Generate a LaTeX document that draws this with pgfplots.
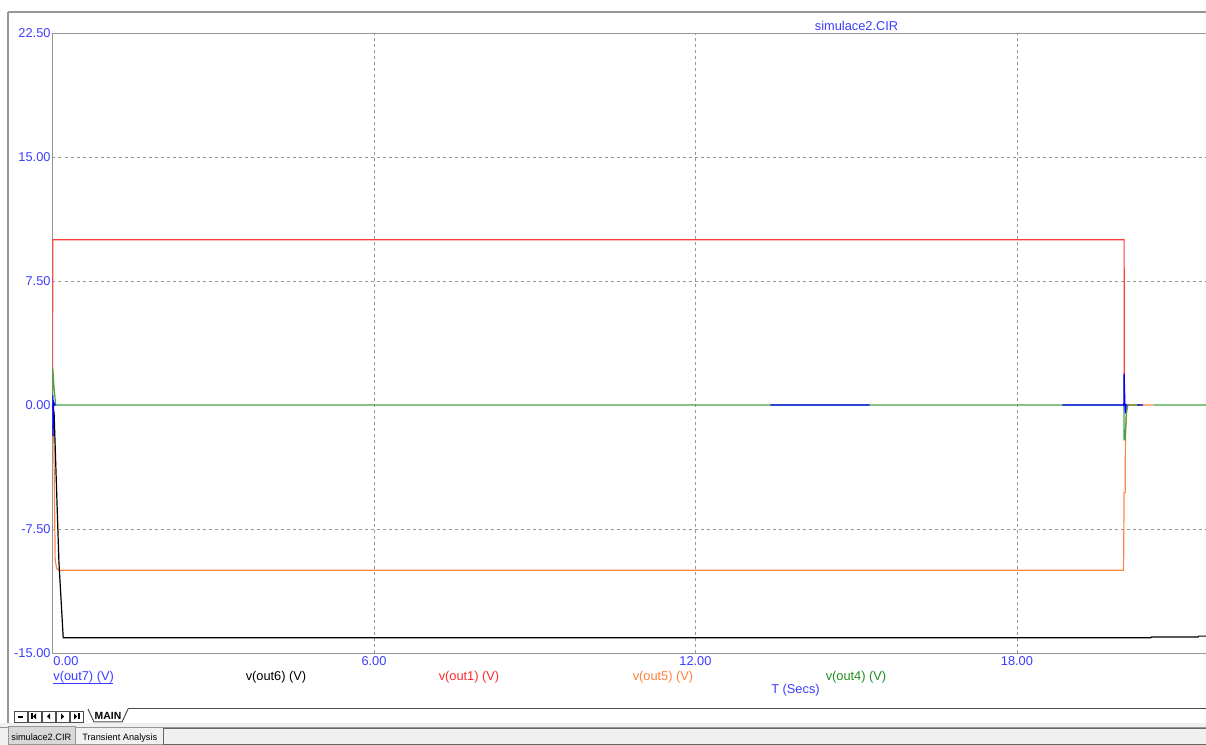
\documentclass[border=0pt]{standalone}
\usepackage{fontspec}
\setmainfont{Liberation Sans}
\usepackage{pgfplots}
\pgfplotsset{compat=1.18}
\definecolor{tickblue}{RGB}{60,60,255}
\definecolor{cred}{RGB}{255,60,60}
\definecolor{corange}{RGB}{255,135,70}
\definecolor{cgreen}{RGB}{70,165,70}
\definecolor{tgreen}{RGB}{30,140,30}
\definecolor{tred}{RGB}{255,40,40}
\definecolor{torange}{RGB}{255,128,56}
\definecolor{cblue}{RGB}{0,0,255}
\definecolor{framegray}{RGB}{150,150,150}
\definecolor{barbg}{RGB}{240,240,240}
\begin{document}
\begin{tikzpicture}
\useasboundingbox (0,0) rectangle (603pt,372.5pt);
\fill[white] (0,0) rectangle (603pt,372.5pt);
\begin{scope}[x=0.5pt,y=-0.5pt,shift={(0,-745)}]
% window decorations
\fill[barbg] (0,723) rectangle (1206,745);
\draw[framegray,line width=1pt] (8,12.5) -- (1206,12.5);
\draw[framegray,line width=1pt] (8,12) -- (8,723);
\draw[black!70,line width=0.5pt] (128,709) -- (1206,709);
\draw[black!70,line width=0.5pt] (88,709) -- (94,722) -- (122,722) -- (128,709);
\node[font=\fontsize{5.2pt}{6pt}\selectfont\bfseries,inner sep=0] at (108,715.5) {MAIN};
% buttons
\foreach \bx in {14,28,42,56,70}{\draw[black!70,line width=0.4pt,fill=white] (\bx,711) rectangle (\bx+13,722);}
\draw[black,line width=0.6pt] (18,717) -- (23,717);
\fill[black] (36,713.5) -- (36,719.5) -- (33,716.5) -- cycle; \draw[black,line width=0.6pt] (32,713.5)--(32,719.5);
\fill[black] (50,713.5) -- (50,719.5) -- (47,716.5) -- cycle;
\fill[black] (61,713.5) -- (61,719.5) -- (64,716.5) -- cycle;
\fill[black] (74,713.5) -- (74,719.5) -- (77,716.5) -- cycle; \draw[black,line width=0.6pt] (79,713.5)--(79,719.5);
% status tabs
\draw[framegray,line width=0.5pt] (0,728) -- (1206,728);
\draw[framegray,line width=0.5pt,fill=barbg!90!black] (8,727) rectangle (75,745);
\draw[framegray,line width=0.5pt,fill=barbg] (75,728) rectangle (163,745);
\draw[black!60,line width=0.5pt,fill=barbg] (163,729) rectangle (1206,745);
\node[font=\fontsize{4.6pt}{5.5pt}\selectfont,inner sep=0,anchor=west] at (11,737.5) {simulace2.CIR};
\node[font=\fontsize{4.6pt}{5.5pt}\selectfont,inner sep=0,anchor=west] at (82,738) {Transient Analysis};
% title and labels
\node[font=\fontsize{6.4pt}{7.7pt}\selectfont,text=tickblue,inner sep=0] at (856.5,25.5) {simulace2.CIR};
\node[font=\fontsize{6.4pt}{7.7pt}\selectfont,text=tickblue,inner sep=0,anchor=west] at (53,677) {v(out7) (V)};
\draw[tickblue,line width=0.4pt] (53,683) -- (113,683);
\node[font=\fontsize{6.4pt}{7.7pt}\selectfont,text=black,inner sep=0] at (276,677) {v(out6) (V)};
\node[font=\fontsize{6.4pt}{7.7pt}\selectfont,text=tred,inner sep=0] at (469,677) {v(out1) (V)};
\node[font=\fontsize{6.4pt}{7.7pt}\selectfont,text=torange,inner sep=0] at (663,677) {v(out5) (V)};
\node[font=\fontsize{6.4pt}{7.7pt}\selectfont,text=tgreen,inner sep=0] at (856,677) {v(out4) (V)};
\node[font=\fontsize{6.4pt}{7.7pt}\selectfont,text=tickblue,inner sep=0] at (795.5,690.5) {T (Secs)};
\end{scope}
\begin{axis}[
  at={(26.25pt,46pt)}, anchor=south west,
  scale only axis, width=577.75pt, height=310pt,
  xmin=0, xmax=21.566, ymin=-15, ymax=22.5,
  axis line style={framegray, line width=0.5pt},
  major tick length=0pt,
  xtick={6,12,18}, xticklabels={6.00,12.00,18.00},
  extra x ticks={0}, extra x tick labels={0.00},
  extra y ticks={0}, extra y tick labels={0.00},
  extra x tick style={grid=none, xticklabel style={anchor=north west, xshift=-1.2pt}},
  extra y tick style={grid=none},
  ytick={-15,-7.5,7.5,15,22.5},
  yticklabels={-15.00,-7.50,7.50,15.00,22.50},
  ticklabel style={font=\fontsize{6.4pt}{7.7pt}\selectfont, text=tickblue},
  xticklabel style={anchor=north, inner sep=1.5pt},
  yticklabel style={anchor=east, inner sep=0.8pt},
  grid=major,
  major grid style={framegray, dash pattern=on 1.5pt off 1.5pt, line width=0.4pt},
  unbounded coords=jump,
  every axis plot/.append style={line width=0.6pt},
]
% v(out1)
\addplot[cred] coordinates {(0,0) (0.005,10) (20.0,10) (20.005,0) (20.3,0)};
% v(out5)
\addplot[corange] coordinates {(0,0) (0.02,-0.7) (0.05,-9.4) (0.08,-9.9) (0.12,-10.0) (19.99,-10.0) (20.0,-5.3) (20.02,-5.3) (20.025,-1.9) (20.05,-0.3) (20.07,0) (20.55,0)};
% v(out6)
\addplot[black] coordinates {(0,0) (0.03,-0.5) (0.12,-9.5) (0.2,-14.08) (20.5,-14.08) (20.51,-14.03) (21.38,-14.03) (21.39,-13.98) (21.6,-13.98)};
% v(out4)
\addplot[cgreen] coordinates {(0,0) (0.005,2.24) (0.03,1.0) (0.06,0) (19.995,0) (20.0,-2.1) (20.02,-2.1) (20.04,-0.5) (20.07,0) (20.3,0) (20.3,nan) (20.55,0) (21.6,0)};
% v(out7)
\addplot[cblue] coordinates {(0,0) (0.005,0.6) (0.01,-1.9) (0.02,0.2) (0.04,0) (0.06,0) (0.06,nan) (13.4,0) (15.25,0) (15.25,nan) (18.85,0) (19.995,0) (20.0,1.9) (20.02,-0.5) (20.04,0) (20.06,0) (20.06,nan) (20.25,0) (20.35,0)};
\end{axis}
\end{tikzpicture}
\end{document}
